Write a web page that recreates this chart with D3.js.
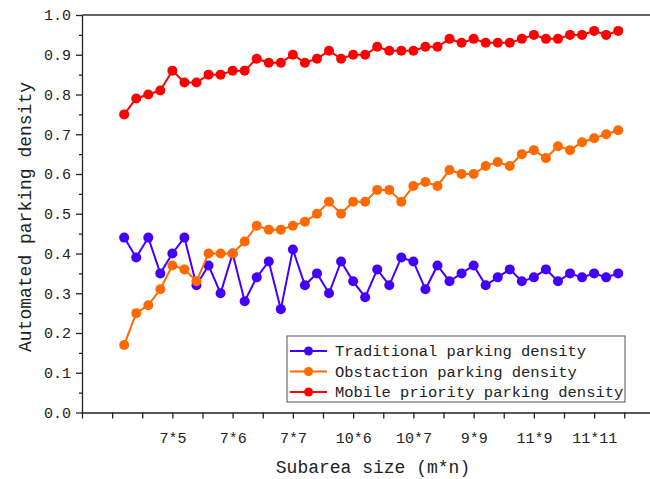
<!DOCTYPE html>
<html>
<head>
<meta charset="utf-8">
<script src="https://cdn.jsdelivr.net/npm/d3@7"></script>
<style>
  body { margin: 0; background: #fff; }
  svg text { font-family: "Liberation Mono", "DejaVu Sans Mono", monospace; fill: #222; }
</style>
</head>
<body>
<div id="chart"></div>
<script>
// point index along the x axis (42 subarea sizes)
const traditional = [0.44,0.39,0.44,0.35,0.40,0.44,0.32,0.37,0.30,0.40,0.28,0.34,
  0.38,0.26,0.41,0.32,0.35,0.30,0.38,0.33,0.29,0.36,0.32,0.39,0.38,0.31,0.37,0.33,0.35,
  0.37,0.32,0.34,0.36,0.33,0.34,0.36,0.33,0.35,0.34,0.35,0.34,0.35];
const obstaction = [0.17,0.25,0.27,0.31,0.37,0.36,0.33,0.40,0.40,0.40,
  0.43,0.47,0.46,0.46,0.47,0.48,0.50,0.53,0.50,0.53,
  0.53,0.56,0.56,0.53,0.57,0.58,0.57,
  0.61,0.60,0.60,0.62,0.63,0.62,0.65,0.66,0.64,0.67,0.66,0.68,0.69,0.70,0.71];
const mobile = [0.75,0.79,0.80,0.81,0.86,0.83,0.83,0.85,0.85,0.86,0.86,0.89,0.88,0.88,
  0.90,0.88,0.89,0.91,0.89,0.90,0.90,0.92,0.91,0.91,0.91,0.92,0.92,0.94,0.93,
  0.94,0.93,0.93,0.93,0.94,0.95,0.94,0.94,0.95,0.95,0.96,0.95,0.96];

const xTickValues = [4, 9, 14, 19, 24, 29, 34, 39];
const xTickLabels = ["7*5", "7*6", "7*7", "10*6", "10*7", "9*9", "11*9", "11*11"];
const yTicks = [0, 0.1, 0.2, 0.3, 0.4, 0.5, 0.6, 0.7, 0.8, 0.9, 1.0];

const series = [
  { name: "Traditional parking density", values: traditional, color: "#4400ff" },
  { name: "Obstaction parking density", values: obstaction, color: "#ff6a00" },
  { name: "Mobile priority parking density", values: mobile, color: "#ff0000" }
];

const W = 650, H = 479;
const plot = { left: 82, right: 650, top: 15, bottom: 412.5 };

const svg = d3.select("#chart").append("svg")
  .attr("width", W).attr("height", H);

const x = d3.scaleLinear()
  .domain([-3.5, -3.5 + (plot.right - plot.left) / 12.05])
  .range([plot.left, plot.right]);
const y = d3.scaleLinear().domain([0, 1]).range([plot.bottom, plot.top]);

// top frame line
svg.append("line")
  .attr("x1", plot.left).attr("x2", plot.right).attr("y1", plot.top).attr("y2", plot.top)
  .attr("stroke", "#333").attr("stroke-width", 1.3);

// x axis: ticks every 2.5 points, labels on every other
const allXTicks = d3.range(-3.5, 44, 2.5);
const xAxis = svg.append("g")
  .attr("transform", `translate(0,${plot.bottom})`)
  .call(d3.axisBottom(x).tickValues(allXTicks).tickSize(6).tickSizeOuter(0)
    .tickFormat(d => {
      const k = xTickValues.indexOf(d);
      return k >= 0 ? xTickLabels[k] : "";
    }));
xAxis.selectAll("text").attr("font-size", 15).attr("dy", "1.45em");

// y axis with minor ticks
svg.append("g")
  .attr("transform", `translate(${plot.left},0)`)
  .call(d3.axisLeft(y).tickValues(d3.range(0.05, 1, 0.1)).tickSize(3).tickFormat(""))
  .select(".domain").remove();
const yAxis = svg.append("g")
  .attr("transform", `translate(${plot.left},0)`)
  .call(d3.axisLeft(y).tickValues(yTicks).tickSize(6).tickSizeOuter(0).tickFormat(d3.format(".1f")));
yAxis.selectAll("text").attr("font-size", 15).attr("x", -11);

svg.selectAll(".domain, .tick line").attr("stroke", "#222").attr("stroke-width", 1.3);

// series
const line = d3.line().x((d, i) => x(i)).y(d => y(d));
series.forEach(s => {
  svg.append("path")
    .datum(s.values)
    .attr("fill", "none")
    .attr("stroke", s.color)
    .attr("stroke-width", 2)
    .attr("d", line);
  svg.append("g").selectAll("circle")
    .data(s.values)
    .join("circle")
    .attr("cx", (d, i) => x(i))
    .attr("cy", d => y(d))
    .attr("r", 5)
    .attr("fill", s.color);
});

// legend
const lg = svg.append("g");
lg.append("rect")
  .attr("x", 287).attr("y", 336).attr("width", 338).attr("height", 66)
  .attr("fill", "#fff").attr("stroke", "#555").attr("stroke-width", 1);
series.forEach((s, i) => {
  const ly = 351 + i * 20.5;
  lg.append("line")
    .attr("x1", 290).attr("x2", 327).attr("y1", ly).attr("y2", ly)
    .attr("stroke", s.color).attr("stroke-width", 2);
  lg.append("circle").attr("cx", 308.5).attr("cy", ly).attr("r", 4.5).attr("fill", s.color);
  lg.append("text")
    .attr("x", 335).attr("y", ly + 5)
    .attr("font-size", 15.5)
    .text(s.name);
});

// axis titles
svg.append("text")
  .attr("x", 373).attr("y", 473)
  .attr("text-anchor", "middle")
  .attr("font-size", 18)
  .text("Subarea size (m*n)");

svg.append("text")
  .attr("transform", "rotate(-90)")
  .attr("x", -217).attr("y", 31)
  .attr("text-anchor", "middle")
  .attr("font-size", 18)
  .text("Automated parking density");
</script>
</body>
</html>
